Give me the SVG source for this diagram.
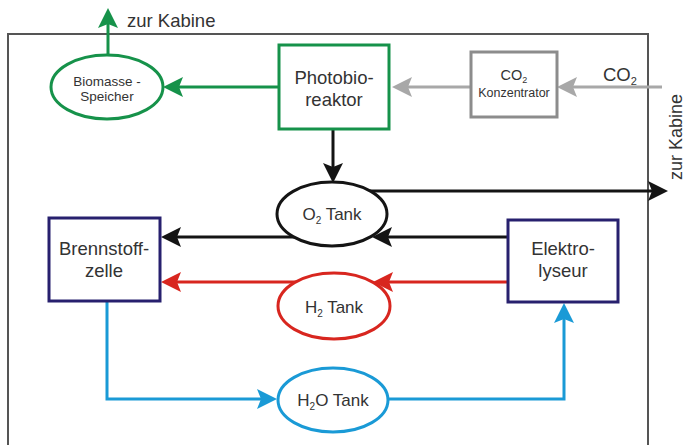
<svg xmlns="http://www.w3.org/2000/svg" width="685" height="445" viewBox="0 0 685 445">
  <style>
    text { font-family: "Liberation Sans", Arial, sans-serif; fill: #333; }
    .lbl { font-size: 18.5px; text-anchor: middle; }
    .tank { font-size: 17px; text-anchor: middle; }
    .frame { fill: none; stroke: #555; stroke-width: 2; }
    .c { fill: none; stroke-width: 3; }
    .green { stroke: #16924a; }
    .grey { stroke: #a8a8a8; }
    .black { stroke: #141414; }
    .red { stroke: #d8261f; }
    .blue { stroke: #1a9ad6; }
    .node { fill: #fff; stroke-width: 3; }
  </style>
  <defs>
    <marker id="ah-green" viewBox="0 0 20 20" refX="10" refY="10" markerWidth="20" markerHeight="20" markerUnits="userSpaceOnUse" orient="auto">
      <path d="M20,10 L0,0 L4,10 L0,20 Z" fill="#16924a"/>
    </marker>
    <marker id="ah-grey" viewBox="0 0 20 20" refX="10" refY="10" markerWidth="20" markerHeight="20" markerUnits="userSpaceOnUse" orient="auto">
      <path d="M20,10 L0,0 L4,10 L0,20 Z" fill="#a8a8a8"/>
    </marker>
    <marker id="ah-black" viewBox="0 0 20 20" refX="10" refY="10" markerWidth="20" markerHeight="20" markerUnits="userSpaceOnUse" orient="auto">
      <path d="M20,10 L0,0 L4,10 L0,20 Z" fill="#141414"/>
    </marker>
    <marker id="ah-red" viewBox="0 0 20 20" refX="10" refY="10" markerWidth="20" markerHeight="20" markerUnits="userSpaceOnUse" orient="auto">
      <path d="M20,10 L0,0 L4,10 L0,20 Z" fill="#d8261f"/>
    </marker>
    <marker id="ah-blue" viewBox="0 0 20 20" refX="10" refY="10" markerWidth="20" markerHeight="20" markerUnits="userSpaceOnUse" orient="auto">
      <path d="M20,10 L0,0 L4,10 L0,20 Z" fill="#1a9ad6"/>
    </marker>
  </defs>

  <rect width="685" height="445" fill="#fff"/>

  <!-- system boundary, open at the bottom -->
  <path class="frame" d="M8,450 V34 H648 V450"/>

  <!-- connectors -->
  <g id="connectors">
    <path class="c green" d="M108,56 V18" marker-end="url(#ah-green)"/>
    <path class="c green" d="M279,87 H173" marker-end="url(#ah-green)"/>
    <path class="c grey" d="M662,87 H567" marker-end="url(#ah-grey)"/>
    <path class="c grey" d="M471,87 H402" marker-end="url(#ah-grey)"/>
    <path class="c black" d="M333,129 V173" marker-end="url(#ah-black)"/>
    <path class="c black" d="M370,191 H658" marker-end="url(#ah-black)"/>
    <path class="c black" d="M508,237 H382" marker-end="url(#ah-black)"/>
    <path class="c black" d="M300,237 H171" marker-end="url(#ah-black)"/>
    <path class="c red" d="M508,282 H383" marker-end="url(#ah-red)"/>
    <path class="c red" d="M300,282 H171" marker-end="url(#ah-red)"/>
    <path class="c blue" d="M107,301 V399 H267" marker-end="url(#ah-blue)"/>
    <path class="c blue" d="M388,399 H564 V313" marker-end="url(#ah-blue)"/>
  </g>

  <!-- outgoing labels -->
  <text x="127" y="27" style="font-size:18.5px">zur Kabine</text>
  <text transform="translate(682,137) rotate(-90)" style="font-size:18px;text-anchor:middle">zur Kabine</text>
  <text x="603" y="81" style="font-size:18.5px">CO<tspan dy="4" style="font-size:11px">2</tspan></text>

  <g id="biomasse">
    <ellipse class="node green" cx="107" cy="87" rx="56" ry="32"/>
    <text x="107" y="86" style="font-size:13.5px;text-anchor:middle">Biomasse -</text>
    <text x="107" y="101" style="font-size:13.5px;text-anchor:middle">Speicher</text>
  </g>

  <g id="photobioreaktor">
    <rect class="node green" x="279" y="45" width="110" height="84"/>
    <text class="lbl" x="334" y="84">Photobio-</text>
    <text class="lbl" x="334" y="106">reaktor</text>
  </g>

  <g id="co2-konzentrator">
    <rect class="node" x="471" y="52" width="86" height="65" stroke="#8c8c8c"/>
    <text x="514" y="80" style="font-size:14.5px;text-anchor:middle">CO<tspan dy="3" style="font-size:9px">2</tspan></text>
    <text x="514" y="97" style="font-size:12.5px;text-anchor:middle">Konzentrator</text>
  </g>

  <g id="o2-tank">
    <ellipse class="node black" cx="332" cy="214" rx="55" ry="32"/>
    <text class="tank" x="332" y="220">O<tspan dy="4" style="font-size:10px">2</tspan><tspan dy="-4"> Tank</tspan></text>
  </g>

  <g id="brennstoffzelle">
    <rect class="node" x="49" y="218" width="111" height="83" stroke="#27206e"/>
    <text class="lbl" x="104" y="255">Brennstoff-</text>
    <text class="lbl" x="104" y="277">zelle</text>
  </g>

  <g id="elektrolyseur">
    <rect class="node" x="508" y="220" width="110" height="82" stroke="#27206e"/>
    <text class="lbl" x="563" y="255">Elektro-</text>
    <text class="lbl" x="563" y="277">lyseur</text>
  </g>

  <g id="h2-tank">
    <ellipse class="node red" cx="334" cy="306" rx="56" ry="33"/>
    <text class="tank" x="334" y="313">H<tspan dy="4" style="font-size:10px">2</tspan><tspan dy="-4"> Tank</tspan></text>
  </g>

  <g id="h2o-tank">
    <ellipse class="node blue" cx="333" cy="400" rx="55" ry="32"/>
    <text class="tank" x="333" y="406">H<tspan dy="4" style="font-size:10px">2</tspan><tspan dy="-4">O Tank</tspan></text>
  </g>
</svg>
